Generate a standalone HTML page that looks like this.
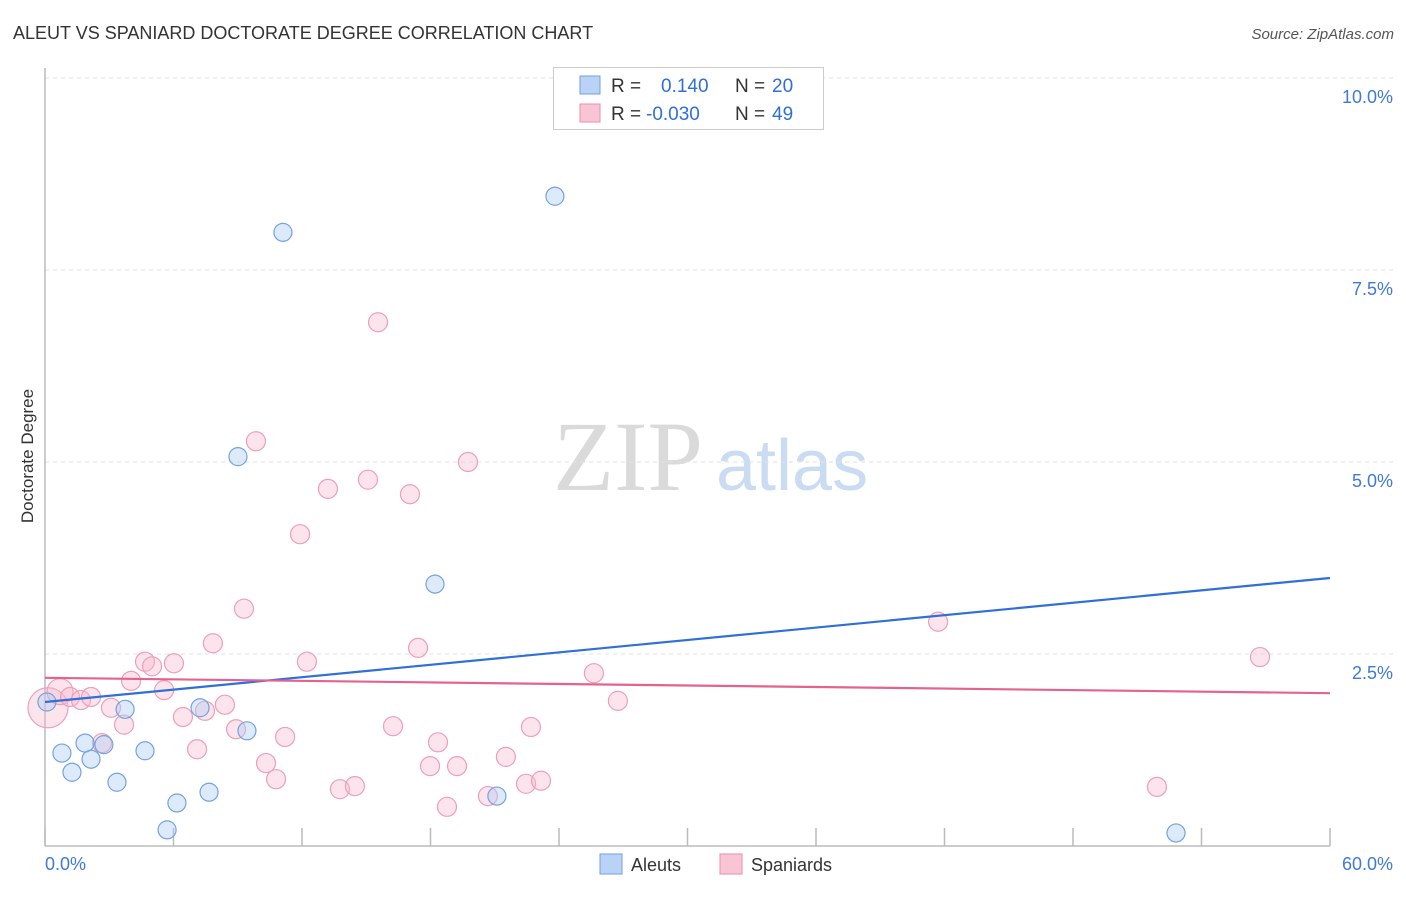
<!DOCTYPE html>
<html><head><meta charset="utf-8"><style>
body{margin:0;background:#fff;font-family:"Liberation Sans",sans-serif}
</style></head><body>
<svg id="c" width="1406" height="892" font-family="Liberation Sans, sans-serif">
<text x="13" y="39" font-size="18" fill="#333">ALEUT VS SPANIARD DOCTORATE DEGREE CORRELATION CHART</text>
<text x="1394" y="39" font-size="15" fill="#555" text-anchor="end" font-style="italic">Source: ZipAtlas.com</text>
<text transform="translate(33,456) rotate(-90)" font-size="17" fill="#333" text-anchor="middle">Doctorate Degree</text>
<g>
<text x="553" y="490" font-size="100" fill="#dadada" style="font-family:'Liberation Serif',serif">ZIP</text>
<text x="716" y="490" font-size="72" fill="#cadcf2">atlas</text>
</g>
<g id="grid"></g><g id="axes"></g><g id="marks"></g>
<g>
<rect x="553.5" y="67.5" width="270" height="62" fill="#fff" stroke="#ccc"/>
<rect x="580" y="76" width="20" height="18" fill="#b8d3f5" stroke="#6f9fe0"/>
<rect x="580" y="104" width="20" height="18" fill="#f9c5d5" stroke="#ea8fab"/>
<text x="611" y="92" font-size="19" fill="#333">R = <tspan x="661" fill="#2f6fd8">0.140</tspan><tspan x="735" fill="#333">N = </tspan><tspan x="772" fill="#2f6fd8">20</tspan></text>
<text x="611" y="120" font-size="19" fill="#333">R = <tspan x="646" fill="#2f6fd8">-0.030</tspan><tspan x="735" fill="#333">N = </tspan><tspan x="772" fill="#2f6fd8">49</tspan></text>
</g>
<g>
<rect x="600" y="854" width="22" height="20" fill="#b8d3f5" stroke="#6f9fe0"/>
<text x="631" y="871" font-size="18" fill="#333">Aleuts</text>
<rect x="720" y="854" width="22" height="20" fill="#f9c5d5" stroke="#ea8fab"/>
<text x="751" y="871" font-size="18" fill="#333">Spaniards</text>
</g>
</svg>
<script>
const aleutX=[0.09,0.79,1.26,1.87,2.15,2.75,3.36,3.74,4.67,5.70,6.16,7.24,7.66,9.01,9.43,11.11,18.21,21.10,23.81,52.81];
const aleutY=[1.875,1.21,0.96,1.34,1.13,1.32,0.83,1.78,1.24,0.21,0.56,1.80,0.70,5.07,1.50,7.99,3.41,0.65,8.46,0.17];
const spanX=[0.14,0.70,1.17,1.68,2.15,2.66,3.08,3.69,4.02,4.67,5.00,5.56,6.02,6.44,7.10,7.47,7.84,8.40,8.92,9.29,9.85,10.32,10.79,11.21,11.91,12.23,13.21,13.77,14.47,15.08,15.55,16.25,17.04,17.42,17.98,18.35,18.77,19.24,19.75,20.68,21.52,22.46,22.69,23.16,25.63,26.75,41.70,51.92,56.73];
const spanY=[1.80,2.01,1.94,1.90,1.94,1.34,1.80,1.58,2.15,2.40,2.34,2.03,2.38,1.68,1.26,1.76,2.64,1.84,1.52,3.09,5.27,1.08,0.87,1.42,4.06,2.40,4.65,0.74,0.78,4.77,6.82,1.56,4.58,2.58,1.04,1.35,0.51,1.04,5.00,0.65,1.16,0.81,1.55,0.85,2.25,1.89,2.92,0.77,2.46];
const aleutTrend=[1.875,3.49];
const spanTrend=[2.19,1.99];
const yTicks=[2.5,5.0,7.5,10.0];
const yTickLabels=["2.5%","5.0%","7.5%","10.0%"];
const xTickCount=10;
const X0=45,X1=1330,Y0=846,PX_PER=76.8,XMAX=60;
const sx=v=>X0+v/XMAX*(X1-X0);
const sy=v=>Y0-v*PX_PER;
const NS="http://www.w3.org/2000/svg";
function mk(tag,parent,attrs){const e=document.createElementNS(NS,tag);for(const k in attrs)e.setAttribute(k,attrs[k]);document.getElementById(parent).appendChild(e);return e;}
yTicks.forEach((t,i)=>{
 const g=mk('line','grid',{x1:X0,x2:1394,y1:sy(t),y2:sy(t),stroke:'#e2e2e2','stroke-dasharray':'4,4'});
 
 
 const l=mk('text','axes',{x:1393,y:sy(t)+25,'font-size':18,fill:'#3f7ad8','text-anchor':'end'});
 l.textContent=yTickLabels[i];
 
 
});
const ax=mk('line','axes',{x1:X0,x2:X0,y1:68,y2:Y0,stroke:'#bbb','stroke-width':1.5});


const bx=mk('line','axes',{x1:X0,x2:X1,y1:Y0,y2:Y0,stroke:'#bbb','stroke-width':1.5});


for(let i=0;i<=xTickCount;i++){
 const x=sx(i*XMAX/xTickCount);
 const t=mk('line','axes',{x1:x,x2:x,y1:828,y2:Y0,stroke:'#bbb','stroke-width':1.5});
 
 
}
const xl0=mk('text','axes',{x:45,y:870,'font-size':18,fill:'#3f7ad8'});xl0.textContent='0.0%';


const xl1=mk('text','axes',{x:1393,y:870,'font-size':18,fill:'#3f7ad8','text-anchor':'end'});xl1.textContent='60.0%';


spanX.forEach((x,i)=>{
 const r=i===0?20:(i===1?13:9.5);
 const c=mk('circle','marks',{cx:sx(x),cy:sy(spanY[i]),r:r,fill:'rgba(248,185,205,0.38)',stroke:'#eca0b8','stroke-width':1.2});
 
 
});
aleutX.forEach((x,i)=>{
 const c=mk('circle','marks',{cx:sx(x),cy:sy(aleutY[i]),r:9,fill:'rgba(175,204,242,0.42)',stroke:'#74a2e0','stroke-width':1.2});
 
 
});
const tb=mk('line','marks',{x1:sx(0),y1:sy(aleutTrend[0]),x2:sx(XMAX),y2:sy(aleutTrend[1]),stroke:'#2f6fd8','stroke-width':2.2});


const tp=mk('line','marks',{x1:sx(0),y1:sy(spanTrend[0]),x2:sx(XMAX),y2:sy(spanTrend[1]),stroke:'#e4628f','stroke-width':2.2});


</script>
</body></html>
